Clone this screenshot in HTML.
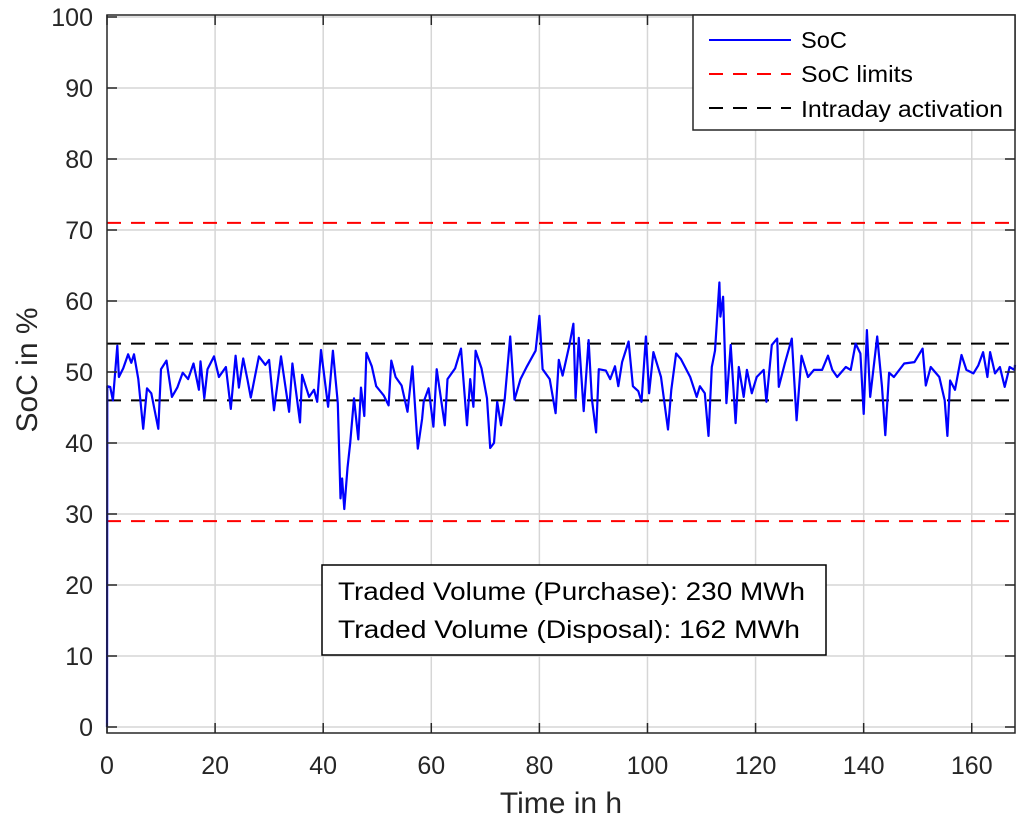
<!DOCTYPE html>
<html><head><meta charset="utf-8">
<style>
html,body{margin:0;padding:0;background:#fff;}
svg{display:block;font-family:"Liberation Sans",Arial,sans-serif;}
</style></head>
<body>
<svg id="chart" width="1024" height="823" viewBox="0 0 1024 823" xmlns="http://www.w3.org/2000/svg">
<rect x="0" y="0" width="1024" height="823" fill="#fff"/>
<g id="grid"></g>
<g id="refs"></g>
<g id="series"></g>
<rect x="107" y="15" width="908" height="718" fill="none" stroke="#262626" stroke-width="1.5"/>
<g id="ticks"></g>
<text x="561" y="813" font-size="30" text-anchor="middle" fill="#262626">Time in h</text>
<text transform="translate(37,370) rotate(-90)" font-size="30" text-anchor="middle" fill="#262626">SoC in %</text>
<g>
<rect x="693" y="15" width="322" height="115" fill="#fff" stroke="#262626" stroke-width="1.5"/>
<line x1="709" y1="40" x2="791" y2="40" stroke="#0000ff" stroke-width="2"/>
<text x="801" y="48" font-size="23" fill="#000" textLength="46" lengthAdjust="spacingAndGlyphs">SoC</text>
<line x1="709" y1="74" x2="791" y2="74" stroke="#ff0000" stroke-width="2" stroke-dasharray="14,10"/>
<text x="801" y="82" font-size="23" fill="#000" textLength="112" lengthAdjust="spacingAndGlyphs">SoC limits</text>
<line x1="709" y1="108" x2="791" y2="108" stroke="#000" stroke-width="2" stroke-dasharray="14,10"/>
<text x="801" y="117" font-size="23" fill="#000" textLength="202" lengthAdjust="spacingAndGlyphs">Intraday activation</text>
</g>
<g>
<rect x="322" y="565" width="504" height="90" fill="#fff" stroke="#000" stroke-width="1.5"/>
<text x="338" y="600" font-size="25" fill="#000" textLength="467" lengthAdjust="spacingAndGlyphs">Traded Volume (Purchase): 230 MWh</text>
<text x="338" y="638" font-size="25" fill="#000" textLength="462" lengthAdjust="spacingAndGlyphs">Traded Volume (Disposal): 162 MWh</text>
</g>
</svg>
<script>
const xTicks=[0,20,40,60,80,100,120,140,160];
const yTicks=[0,10,20,30,40,50,60,70,80,90,100];
const socLimits=[29,71];
const intradayLimits=[46,54];
const times=[0,0.05,0.6,1.1,1.9,2.2,3,3.9,4.5,5,5.8,6.7,7.4,8.2,9.5,10,11,12,13,14,15,16,17,17.3,18,18.6,19.8,20.7,22,22.9,23.8,24.4,25.2,26,26.6,28.1,29.3,30,30.9,32.2,33.7,34.3,35.7,36.1,37.4,38.3,38.9,39.6,40.9,41.8,42.7,43.2,43.5,43.9,44.5,45,45.7,46.5,47,47.6,48,49,49.8,51.2,52.1,52.6,53.4,54.5,55.6,56.5,57.5,58.3,58.6,59.5,60.4,61,62.5,63,64.4,65.5,66.6,67.2,67.8,68.2,69.3,70.3,70.9,71.6,72.2,72.9,73.6,74.6,75.4,76.5,77.7,79.3,80,80.6,81.9,83,83.6,84.3,85.5,86.3,86.7,87.3,88.2,89.1,89.7,90.5,91,92.3,93.1,94,94.6,95.3,96.5,97.3,98.3,98.9,99.7,100.3,101.1,102.5,103.8,104.4,105.3,106.2,107.9,109.1,109.7,110.6,111.3,111.9,112.5,113.3,113.5,114,114.6,115.4,116.3,116.9,117.8,118.4,119.3,120.2,121.5,122,123,124,124.3,125.4,126.7,127.6,128.5,129.7,130.8,132.3,133.4,134.2,135.1,136.7,137.6,138.5,139.4,140,140.6,141.2,142.5,143.4,144,144.7,145.6,147.5,149.4,150.9,151.5,152.4,154,155,155.5,156,156.9,158.1,159,160.3,161.2,162.1,162.9,163.4,164.3,165.2,166.1,167,167.9,168];
const socValues=[0,48,47.9,46,53.7,49.3,50.5,52.5,51.3,52.5,49,42,47.7,47,42,50.4,51.6,46.5,47.8,49.9,49,51.2,47.5,51.5,46.3,50.4,52.2,49.3,50.7,44.8,52.3,47.8,51.9,48.9,46.4,52.2,51,51.7,44.6,52.2,44.4,51.2,42.9,49.6,46.5,47.5,45.8,53.1,45.1,53,45.6,32.2,35,30.7,36.5,40,46.3,40.5,47.8,43.8,52.7,50.8,48,46.7,45.3,51.6,49.3,48.1,44.4,50.8,39.2,43.4,45.8,47.7,42.3,50.4,42.5,49,50.5,53.3,42.5,49,45.1,53,50.5,46.3,39.3,40,45.8,42.5,46.3,55,46.1,49,50.8,53,57.9,50.4,49,44.2,51.7,49.5,53.6,56.8,46.3,54.8,44.5,54.5,46.3,41.5,50.4,50.2,49,50.8,48,51.4,54.3,48,47.3,45.8,55,47,52.8,49.3,41.9,47.5,52.6,51.8,49.3,46.5,48,47,41,50.7,53,62.6,57.8,60.6,45.6,53.8,42.8,50.7,46.5,50.3,47,49.3,50.3,45.8,53.8,54.7,47.9,51.2,54.7,43.2,52.3,49.3,50.3,50.3,52.3,50.3,49.3,50.7,50.3,54,52.6,44.1,55.9,46.5,55,47.9,41.1,49.9,49.3,51.2,51.4,53.3,48.1,50.7,49.3,46,41,48.8,47.5,52.4,50.3,49.8,50.9,52.8,49.3,52.8,49.8,50.7,47.9,50.7,50.3,51];

const X0=107,X1=1015,XMAX=168,Y0=727,Y100=17;
function sx(t){return X0+t*(X1-X0)/XMAX;}
function sy(v){return Y0+v*(Y100-Y0)/100;}
const NS="http://www.w3.org/2000/svg";
function mk(tag,attrs,parent){const e=document.createElementNS(NS,tag);for(const k in attrs)e.setAttribute(k,attrs[k]);parent.appendChild(e);return e;}
const grid=document.getElementById('grid'),ticks=document.getElementById('ticks'),refs=document.getElementById('refs'),series=document.getElementById('series');

xTicks.forEach(t=>{
  const x=sx(t);
  if(t>0){const g=mk('line',{x1:x,y1:15,x2:x,y2:733,stroke:'#d6d6d6','stroke-width':1.5},grid);
  
  }
  const tk=mk('line',{x1:x,y1:733,x2:x,y2:723,stroke:'#262626','stroke-width':1.5},ticks);
  
  
  const tk2=mk('line',{x1:x,y1:15,x2:x,y2:25,stroke:'#262626','stroke-width':1.5},ticks);
  
  
  const lb=mk('text',{x:x,y:774,'font-size':25,'text-anchor':'middle',fill:'#262626'},ticks);
  lb.textContent=t;
  
  
});
yTicks.forEach(v=>{
  const y=sy(v);
  const g=mk('line',{x1:107,y1:y,x2:1015,y2:y,stroke:'#d6d6d6','stroke-width':1.5},grid);
  
  
  const tk=mk('line',{x1:107,y1:y,x2:117,y2:y,stroke:'#262626','stroke-width':1.5},ticks);
  
  
  const tk2=mk('line',{x1:1005,y1:y,x2:1015,y2:y,stroke:'#262626','stroke-width':1.5},ticks);
  
  
  const lb=mk('text',{x:93,y:y+9,'font-size':25,'text-anchor':'end',fill:'#262626'},ticks);
  lb.textContent=v;
  
  
});
socLimits.forEach(v=>{
  const l=mk('line',{x1:107,y1:sy(v),x2:1015,y2:sy(v),stroke:'#ff0000','stroke-width':2,'stroke-dasharray':'14,10'},refs);
  
  
});
intradayLimits.forEach(v=>{
  const l=mk('line',{x1:107,y1:sy(v),x2:1015,y2:sy(v),stroke:'#000','stroke-width':2,'stroke-dasharray':'14,10'},refs);
  
  
});
const pts=times.map((t,i)=>sx(t).toFixed(1)+','+sy(socValues[i]).toFixed(1)).join(' ');
const pl=mk('polyline',{points:pts,fill:'none',stroke:'#0000ff','stroke-width':2.2,'stroke-linejoin':'round'},series);


</script>
</body></html>
